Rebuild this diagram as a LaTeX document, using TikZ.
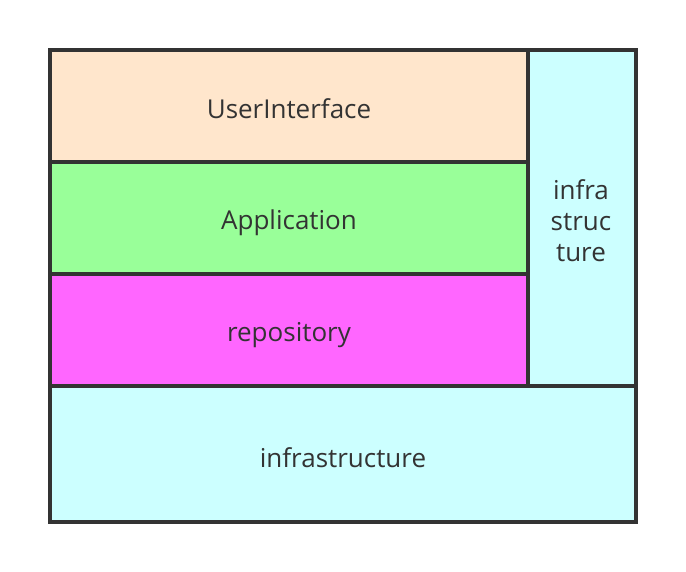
\documentclass[tikz,border=0pt]{standalone}
\usepackage{fontspec}
\setmainfont{Open Sans}
\definecolor{edge}{HTML}{333333}
\definecolor{uicol}{HTML}{FFE6CC}
\definecolor{appcol}{HTML}{99FF99}
\definecolor{repocol}{HTML}{FF66FF}
\definecolor{infcol}{HTML}{CCFFFF}
\begin{document}
\begin{tikzpicture}[x=1pt,y=-1pt,
  layer/.style={draw=edge,line width=4pt,line join=miter},
  lbl/.style={text=edge,font=\fontsize{26}{31}\selectfont,align=center,inner sep=0pt}]
\useasboundingbox (0,0) rectangle (686,572);
\fill[white] (0,0) rectangle (686,572);
\path[layer,fill=uicol] (50,50) rectangle (528,162);
\path[layer,fill=appcol] (50,162) rectangle (528,274);
\path[layer,fill=repocol] (50,274) rectangle (528,386);
\path[layer,fill=infcol] (528,50) rectangle (636,386);
\path[layer,fill=infcol] (50,386) rectangle (636,522);
\node[lbl] (ui) at (289,109) {UserInterface};
\node[lbl] (app) at (289,223) {Application};
\node[lbl] (repo) at (289,335) {repository};
\node[lbl] (infb) at (343,458) {infrastructure};
\node[lbl] (infr) at (581,221) {infra\\struc\\ture};
\end{tikzpicture}
\end{document}
